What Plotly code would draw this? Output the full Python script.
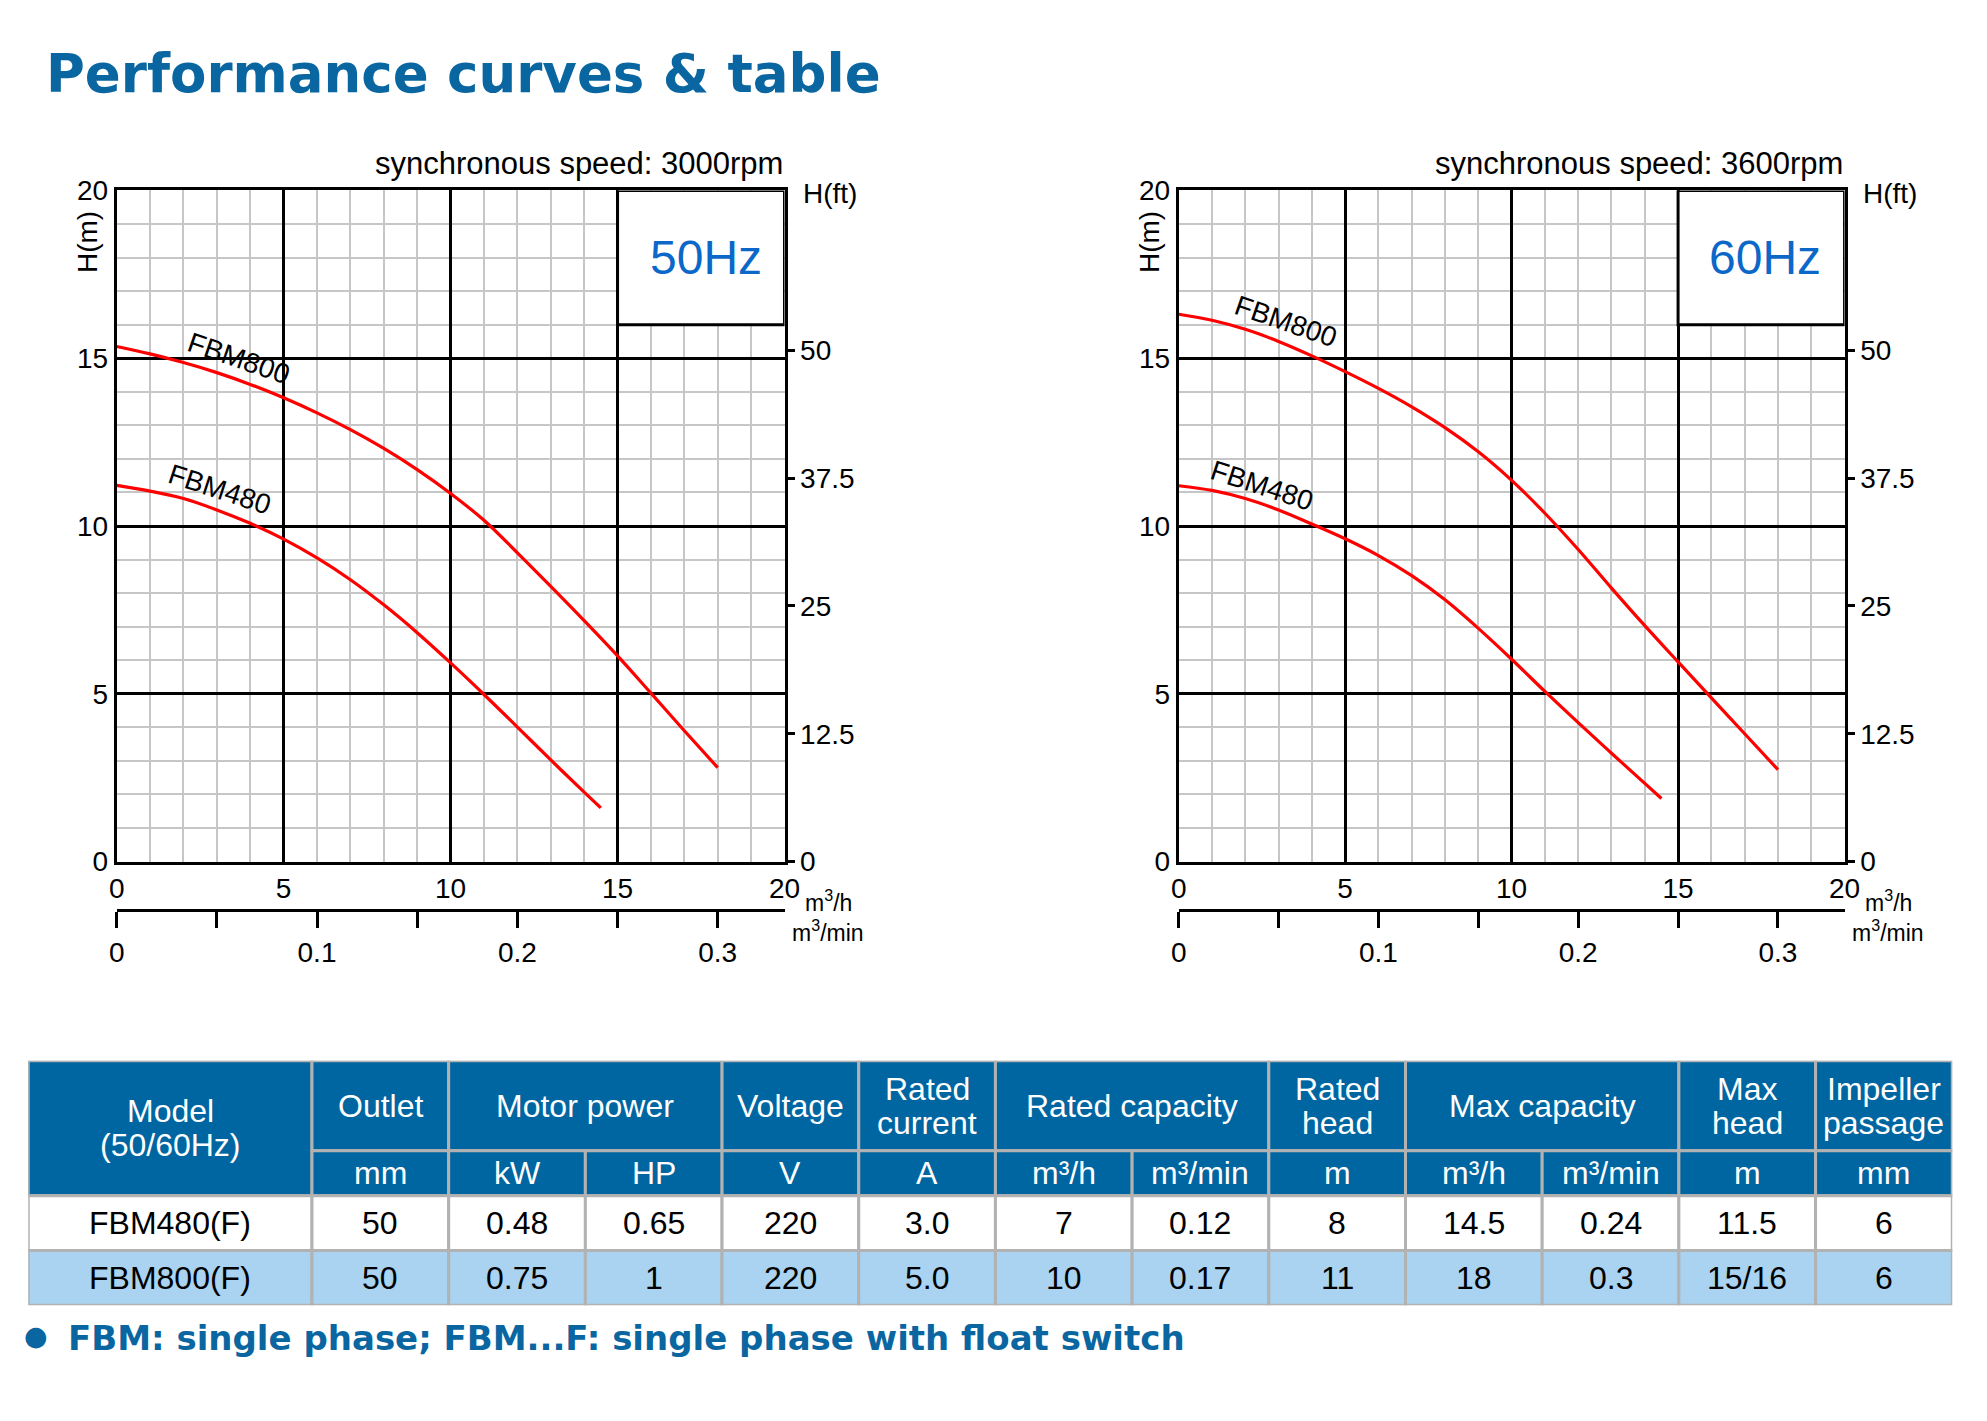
import plotly.graph_objects as go

# ---- pump curves, flow Q (m3/h) vs head H (m) ----
q_800_50 = [0, 1, 2, 3, 4, 5, 6, 7, 8, 9, 10, 11, 12, 13, 14, 15, 16, 17, 18]
h_800_50 = [15.35, 15.13, 14.87, 14.57, 14.22, 13.82, 13.37, 12.87, 12.31, 11.68, 10.97, 10.17, 9.2,
            8.2, 7.18, 6.13, 5.02, 3.9, 2.8]
q_480_50 = [0, 1, 2, 3, 4, 5, 6, 7, 8, 9, 10, 11, 12, 13, 14, 14.5]
h_480_50 = [11.21, 11.04, 10.82, 10.48, 10.08, 9.61, 9.05, 8.4, 7.65, 6.82, 5.92, 4.98, 4.01, 3.03, 2.07, 1.6]
q_800_60 = [0, 1, 2, 3, 4, 5, 6, 7, 8, 9, 10, 11, 12, 13, 14, 15, 16, 17, 18]
h_800_60 = [16.31, 16.13, 15.86, 15.5, 15.07, 14.6, 14.1, 13.55, 12.93, 12.21, 11.36, 10.38, 9.3,
            8.15, 7.03, 5.95, 4.88, 3.81, 2.74]
q_480_60 = [0, 1, 2, 3, 4, 5, 6, 7, 8, 9, 10, 11, 12, 13, 14, 14.5]
h_480_60 = [11.2, 11.06, 10.82, 10.48, 10.06, 9.62, 9.12, 8.52, 7.8, 6.95, 6.03, 5.07, 4.14, 3.23, 2.33, 1.88]

ft_ticks = [0, 12.5, 25, 37.5, 50]
m3min_ticks = [0, 0.1, 0.2, 0.3]
m3min_labels = ["0", "0.1", "0.2", "0.3"]

# ---- table ----
head_top = ["Model<br>(50/60Hz)", "Outlet", "Motor power", "Voltage", "Rated<br>current",
            "Rated capacity", "Rated<br>head", "Max capacity", "Max<br>head", "Impeller<br>passage"]
head_span = [1, 1, 2, 1, 1, 2, 1, 2, 1, 1]
units = ["mm", "kW", "HP", "V", "A", "m³/h", "m³/min", "m", "m³/h", "m³/min", "m", "mm"]
models = ["FBM480(F)", "FBM800(F)"]
outlet_mm = ["50", "50"]
power_kw = ["0.48", "0.75"]
power_hp = ["0.65", "1"]
voltage_v = ["220", "220"]
current_a = ["3.0", "5.0"]
rated_cap_m3h = ["7", "10"]
rated_cap_m3min = ["0.12", "0.17"]
rated_head_m = ["8", "11"]
max_cap_m3h = ["14.5", "18"]
max_cap_m3min = ["0.24", "0.3"]
max_head_m = ["11.5", "15/16"]
impeller_mm = ["6", "6"]

M_TO_FT = 3.28084
W, H = 1987, 1421
BLUE = "#0a66a0"
FONT = "Liberation Sans, Arial, sans-serif"
BOLD = "DejaVu Sans, sans-serif"


def px(x):
    return x / W


def py(y):
    return 1 - y / H


fig = go.Figure()

charts = [
    ("x", "y", "x2", "y2", [110, 786], "3000rpm", "50Hz", 17.65,
     [(q_800_50, h_800_50), (q_480_50, h_480_50)], [(3.67, 15.0, 19), (3.1, 11.1, 18)]),
    ("x3", "y3", "x4", "y4", [1185, 1859], "3600rpm", "60Hz", 17.6,
     [(q_800_60, h_800_60), (q_480_60, h_480_60)], [(3.23, 16.1, 19), (2.49, 11.2, 18)]),
]
names = ["FBM800", "FBM480"]
ydom = [py(865.5), py(179.3)]
tfont = dict(size=28, family=FONT, color="black")

for xa, ya, xa2, ya2, xd, rpm, hz, hzx, curves, lab in charts:
    for (q, h) in curves:
        fig.add_trace(go.Scatter(x=q, y=h, mode="lines", xaxis=xa, yaxis=ya,
                                 line=dict(color="#ff0000", width=3.2, shape="spline", smoothing=1),
                                 showlegend=False, hoverinfo="skip"))
    # empty traces so the secondary axes get drawn
    fig.add_trace(go.Scatter(x=[], y=[], xaxis=xa2, yaxis=ya, showlegend=False))
    fig.add_trace(go.Scatter(x=[], y=[], xaxis=xa, yaxis=ya2, showlegend=False))

    n = "" if xa == "x" else xa[1:]
    ny = "" if ya == "y" else ya[1:]
    grid = dict(range=[0, 20], dtick=5, tick0=0, showgrid=True, gridcolor="black", gridwidth=2.5,
                minor=dict(dtick=1, showgrid=True, gridcolor="#c6c6c6", gridwidth=1.8),
                showline=True, mirror=True, linecolor="black", linewidth=3, ticks="",
                zeroline=False, tickfont=tfont, fixedrange=True)
    fig.layout["xaxis" + n] = dict(grid, domain=[px(xd[0]), px(xd[1])], anchor=ya)
    fig.layout["yaxis" + ny] = dict(grid, domain=ydom, anchor=xa)
    fig.layout["yaxis" + ya2[1:]] = dict(overlaying=ya, side="right", anchor=xa, range=[0, 20 * M_TO_FT],
                                         tickvals=ft_ticks, ticktext=[f"{v:g}" for v in ft_ticks],
                                         ticks="outside", ticklen=9, tickwidth=2.5, tickcolor="black",
                                         showgrid=False, zeroline=False, showline=False, tickfont=tfont,
                                         fixedrange=True)
    fig.layout["xaxis" + xa2[1:]] = dict(overlaying=xa, anchor="free", position=py(915), side="bottom",
                                         range=[0, 20 / 60], tickvals=m3min_ticks, ticktext=m3min_labels,
                                         ticks="outside", ticklen=16, tickwidth=2.5, tickcolor="black",
                                         minor=dict(tick0=0, dtick=0.05, ticks="outside", ticklen=16,
                                                    tickwidth=2.5, tickcolor="black", showgrid=False),
                                         showline=True, linewidth=3, linecolor="black",
                                         showgrid=False, zeroline=False, tickfont=tfont, fixedrange=True)

    # frequency box in the top right corner
    fig.add_shape(type="rect", xref=xa, yref=ya, x0=15, x1=20, y0=16, y1=20,
                  fillcolor="white", line=dict(color="black", width=3), layer="above")
    fig.add_annotation(xref=xa, yref=ya, x=hzx, y=18, text=hz, showarrow=False,
                       xanchor="center", yanchor="middle",
                       font=dict(size=48, family=FONT, color="#0b68c9"))
    for name, (lx, ly, ang) in zip(names, lab):
        fig.add_annotation(xref=xa, yref=ya, x=lx, y=ly, text=name, showarrow=False, textangle=ang,
                           xanchor="center", yanchor="middle", font=tfont)

    dx, dy = xa + " domain", ya + " domain"
    side_labels = [
        ("synchronous speed: " + rpm, 1, 1, 0, 27, "right", 0, 31),
        ("H(ft)", 1, 1, 45, -3, "center", 0, 28),
        ("H(m)", 0, 1, -29, -52, "center", -90, 28),
        ("m<sup>3</sup>/h", 1, 0, 44, -39, "center", 0, 23),
        ("m<sup>3</sup>/min", 1, 0, 43, -69, "center", 0, 23),
    ]
    for text, ax, ay, xs, ys, xan, ang, size in side_labels:
        fig.add_annotation(xref=dx, yref=dy, x=ax, y=ay, xshift=xs, yshift=ys, text=text,
                           xanchor=xan, yanchor="middle", textangle=ang, showarrow=False,
                           font=dict(size=size, family=FONT, color="black"))

# ---- table drawn on its own hidden axes ----
col_w = [287.2] + [138.36] * 12
row_h = [92, 46, 56, 56]
col_x = [0]
for w in col_w:
    col_x.append(col_x[-1] + w)
row_y = [0]
for h in row_h:
    row_y.append(row_y[-1] + h)

fig.add_trace(go.Scatter(x=[], y=[], xaxis="x5", yaxis="y5", showlegend=False))
fig.layout.xaxis5 = dict(domain=[px(20.5), px(20.5 + col_x[-1])], range=[0, col_x[-1]], visible=False,
                         anchor="y5", fixedrange=True)
fig.layout.yaxis5 = dict(domain=[py(1069 + row_y[-1]), py(1069)], range=[row_y[-1], 0], visible=False,
                         anchor="x5", fixedrange=True)

BORDER = "#b2b2b2"
HEAD = "#0066a1"
ROWS = ["white", "#a9d3f1"]


def cell(c0, c1, r0, r1, fill, text, color):
    fig.add_shape(type="rect", xref="x5", yref="y5", x0=col_x[c0], x1=col_x[c1], y0=row_y[r0], y1=row_y[r1],
                  fillcolor=fill, line=dict(color=BORDER, width=3), layer="below")
    lines = text.split("<br>")
    yc = (row_y[r0] + row_y[r1]) / 2
    for i, t in enumerate(lines):
        fig.add_annotation(xref="x5", yref="y5", x=(col_x[c0] + col_x[c1]) / 2,
                           y=yc + (i - (len(lines) - 1) / 2) * 35, text=t, showarrow=False,
                           xanchor="center", yanchor="middle",
                           font=dict(size=32, family=FONT, color=color))


c = 0
for text, span in zip(head_top, head_span):
    if c == 0:
        cell(0, 1, 0, 2, HEAD, text, "white")
    else:
        cell(c, c + span, 0, 1, HEAD, text, "white")
    c += span
for i, u in enumerate(units):
    cell(i + 1, i + 2, 1, 2, HEAD, u, "white")

columns = [models, outlet_mm, power_kw, power_hp, voltage_v, current_a, rated_cap_m3h, rated_cap_m3min,
           rated_head_m, max_cap_m3h, max_cap_m3min, max_head_m, impeller_mm]
for r in range(2):
    for i, col in enumerate(columns):
        cell(i, i + 1, r + 2, r + 3, ROWS[r], col[r], "black")

# ---- title and note ----
fig.add_annotation(xref="paper", yref="paper", x=px(36), y=py(60), xanchor="left", yanchor="middle",
                   text="<b>Performance curves &amp; table</b>", showarrow=False,
                   font=dict(size=53, family=BOLD, color=BLUE))
fig.add_annotation(xref="paper", yref="paper", x=px(28.5), y=py(1350), xanchor="center", yanchor="middle",
                   text="●", showarrow=False, font=dict(size=27, family=BOLD, color=BLUE))
fig.add_annotation(xref="paper", yref="paper", x=px(59), y=py(1352), xanchor="left", yanchor="middle",
                   text="<b>FBM: single phase; FBM...F: single phase with float switch</b>", showarrow=False,
                   font=dict(size=34, family=BOLD, color=BLUE))

fig.update_layout(autosize=True, margin=dict(l=0, r=0, t=0, b=0),
                  paper_bgcolor="white", plot_bgcolor="white",
                  font=dict(family=FONT, color="black"), showlegend=False)

fig.write_html("out.html", default_width="100vw", default_height="100vh",
               config={"displayModeBar": False, "responsive": True},
               post_script="document.body.style.margin='0';document.body.style.overflow='hidden';"
                           "Plotly.Plots.resize(document.getElementById('{plot_id}'));")
